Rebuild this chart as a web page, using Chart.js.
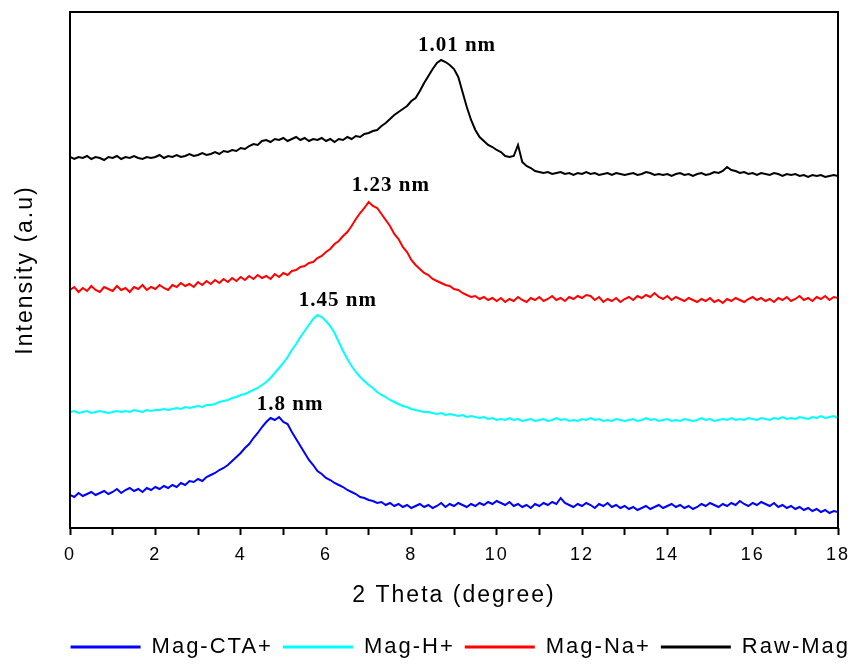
<!DOCTYPE html>
<html>
<head>
<meta charset="utf-8">
<script src="https://cdn.jsdelivr.net/npm/chart.js@4.4.0/dist/chart.umd.min.js"></script>
<style>
  html, body { margin: 0; padding: 0; background: #fff; }
  #wrap { width: 852px; height: 664px; }
</style>
</head>
<body>
<div id="wrap"><canvas id="myChart" width="852" height="664"></canvas></div>
<script>
// sample positions, 2 theta from 0 to 18 in 0.1 steps
const theta = [];
for (let i = 0; i <= 180; i++) theta.push(+(i * 0.1).toFixed(1));

const xTickLabels = [0, 2, 4, 6, 8, 10, 12, 14, 16, 18];

const seriesNames = ["Mag-CTA+", "Mag-H+", "Mag-Na+", "Raw-Mag"];

const magCTA = [
  33,31,35,32,34,36,33,35,37,34, 36,39,35,38,40,37,39,36,40,38,
  41,39,42,40,43,41,45,43,47,46, 49,47,51,53,55,58,60,63,67,71,
  75,80,84,90,95,101,106,110,108,111, 106,104,96,89,82,75,68,63,57,54,
  50,48,45,43,41,38,36,34,31,30, 28,27,25,26,23,25,22,24,21,23,
  20,22,24,21,23,20,22,25,21,24, 22,25,23,21,24,22,25,23,26,24,
  27,25,23,26,22,24,21,23,20,24, 22,25,23,26,24,30,25,23,21,24,
  22,25,23,20,24,22,25,21,23,20, 22,19,21,18,20,22,19,21,23,20,
  22,24,21,23,20,22,19,21,24,22, 25,23,21,24,22,25,23,27,24,22,
  25,23,26,24,22,25,21,23,20,22, 19,21,18,20,17,19,16,18,15,17,
  16
];

const magH = [
  116,117,115,116,117,115,116,117,116,115, 116,117,116,117,116,118,117,116,118,117,
  118,118,119,118,119,120,119,121,120,121, 122,121,123,123,124,126,127,128,130,131,
  133,134,136,138,140,143,146,150,155,160, 165,171,178,184,191,197,203,209,213,211,
  207,202,195,186,177,169,162,156,151,147, 143,140,136,133,131,128,126,124,122,121,
  119,118,117,116,116,115,114,115,113,114, 113,112,113,111,112,111,110,111,109,110,
  108,109,108,110,108,109,107,108,109,107, 108,109,107,108,110,108,109,107,108,107,
  109,108,110,108,109,107,108,107,109,108, 107,108,109,107,108,110,108,109,107,108,
  109,107,108,107,109,108,107,108,110,108, 109,107,108,109,108,110,108,109,108,110,
  109,108,110,109,108,110,109,111,109,110, 109,111,110,109,111,110,112,110,111,112,
  110
];

const magNa = [
  238,241,236,240,237,242,238,236,241,239, 237,242,238,240,236,241,239,243,238,241,
  239,243,240,238,243,241,245,242,244,241, 246,243,247,244,248,245,249,246,250,247,
  251,248,252,249,253,250,252,249,254,251, 255,253,257,258,261,262,265,266,270,272,
  276,279,284,287,292,296,302,309,315,320, 326,322,320,314,308,302,294,289,281,276,
  268,263,259,255,253,249,247,245,243,242, 239,238,235,233,231,232,229,231,228,230,
  227,230,226,229,227,231,228,226,230,228, 231,227,229,232,228,230,227,231,229,232,
  230,233,232,228,231,226,229,227,230,226, 229,231,228,232,230,233,231,235,231,229,
  232,228,231,229,227,230,228,226,229,227, 230,226,228,225,229,227,230,228,226,229,
  231,228,230,227,229,226,230,228,231,227, 229,232,228,230,227,231,229,232,228,231,
  230
];

const rawMag = [
  371,369,371,370,372,369,371,370,368,371, 370,372,369,371,370,372,370,369,371,370,
  371,373,370,372,371,373,371,372,374,372, 373,375,373,374,376,374,377,376,378,377,
  380,379,382,384,383,387,388,386,389,388, 390,387,389,391,388,390,387,389,388,390,
  387,389,386,389,388,391,389,392,391,394, 395,397,398,402,405,409,413,416,419,422,
  427,430,437,445,452,459,465,468,466,463, 459,451,436,421,408,398,391,387,383,381,
  378,376,372,371,372,383,366,362,360,357, 356,355,356,354,355,356,354,355,353,355,
  354,356,354,355,353,354,355,353,355,354, 353,354,355,353,354,356,355,353,354,353,
  354,352,354,355,353,354,352,354,355,353, 354,356,355,357,361,358,357,355,356,354,
  355,353,355,354,353,355,354,352,354,353, 354,352,353,351,353,352,353,351,352,353,
  352
];

// d-spacing labels: text, 2theta, intensity
const peakLabels = [
  { text: "1.01 nm", x: 9.07, y: 482 },
  { text: "1.23 nm", x: 7.52, y: 342 },
  { text: "1.45 nm", x: 6.28, y: 227 },
  { text: "1.8 nm", x: 5.16, y: 123 },
];

const toPoints = (vals) => theta.map((t, i) => ({ x: t, y: vals[i] }));

const spacing = {
  id: "spacing",
  beforeLayout(chart) { chart.ctx.letterSpacing = "2px"; },
  beforeDraw(chart) { chart.ctx.letterSpacing = "2px"; },
};

const frame = {
  id: "frame",
  afterDatasetsDraw(chart) {
    const { ctx, chartArea: a, scales } = chart;
    ctx.save();
    ctx.strokeStyle = "#000";
    ctx.lineWidth = 2;
    ctx.strokeRect(a.left, a.top, a.right - a.left, a.bottom - a.top);
    ctx.letterSpacing = "1px";
    ctx.font = "bold 21px 'Liberation Serif', 'Times New Roman', serif";
    ctx.fillStyle = "#000";
    ctx.textAlign = "center";
    ctx.textBaseline = "middle";
    peakLabels.forEach((p) => {
      ctx.fillText(p.text, scales.x.getPixelForValue(p.x), scales.y.getPixelForValue(p.y));
    });
    ctx.restore();
  },
};

const colors = ["#0000ff", "#00ffff", "#ff0000", "#000000"];
const allSeries = [magCTA, magH, magNa, rawMag];

const ctx = document.getElementById("myChart");
new Chart(ctx, {
  type: "line",
  data: {
    datasets: allSeries.map((vals, i) => ({
      label: seriesNames[i],
      data: toPoints(vals),
      borderColor: colors[i],
      backgroundColor: colors[i],
      borderWidth: 2,
      pointRadius: 0,
      tension: 0,
      fill: false,
    })),
  },
  options: {
    responsive: false,
    animation: false,
    layout: { padding: { top: 12, right: -8, bottom: -4, left: 0 } },
    plugins: {
      tooltip: { enabled: false },
      legend: {
        position: "bottom",
        align: "end",
        labels: {
          color: "#000",
          font: { family: "'Liberation Sans', Arial, sans-serif", size: 22 },
          usePointStyle: true,
          pointStyle: "line",
          pointStyleWidth: 70,
          padding: 10,
          generateLabels(chart) {
            const items = Chart.defaults.plugins.legend.labels.generateLabels(chart);
            items.forEach((it) => { it.lineWidth = 3; });
            return items;
          },
        },
      },
    },
    scales: {
      x: {
        type: "linear",
        min: 0,
        max: 18,
        afterFit(s) {
          s.height = 98;
          s.paddingLeft = 0;
          s.paddingRight = 14;
        },
        border: { display: false },
        grid: {
          display: true,
          drawOnChartArea: false,
          drawTicks: true,
          tickLength: 7,
          tickWidth: 2,
          tickColor: "#000",
        },
        ticks: {
          stepSize: 1,
          autoSkip: false,
          maxRotation: 0,
          padding: 9,
          color: "#000",
          font: { family: "'Liberation Sans', Arial, sans-serif", size: 18 },
          callback: (v) => (xTickLabels.includes(v) ? String(v) : ""),
        },
        title: {
          display: true,
          text: "2 Theta (degree)",
          color: "#000",
          font: { family: "'Liberation Sans', Arial, sans-serif", size: 23 },
          padding: { top: 0, bottom: 17 },
        },
      },
      y: {
        min: 0,
        max: 516,
        afterFit(s) { s.width = 70; },
        border: { display: false },
        grid: { display: false },
        ticks: { display: false },
        title: {
          display: true,
          text: "Intensity (a.u)",
          color: "#000",
          font: { family: "'Liberation Sans', Arial, sans-serif", size: 23 },
          padding: { top: 12, bottom: 0 },
        },
      },
    },
  },
  plugins: [spacing, frame],
});
</script>
</body>
</html>
